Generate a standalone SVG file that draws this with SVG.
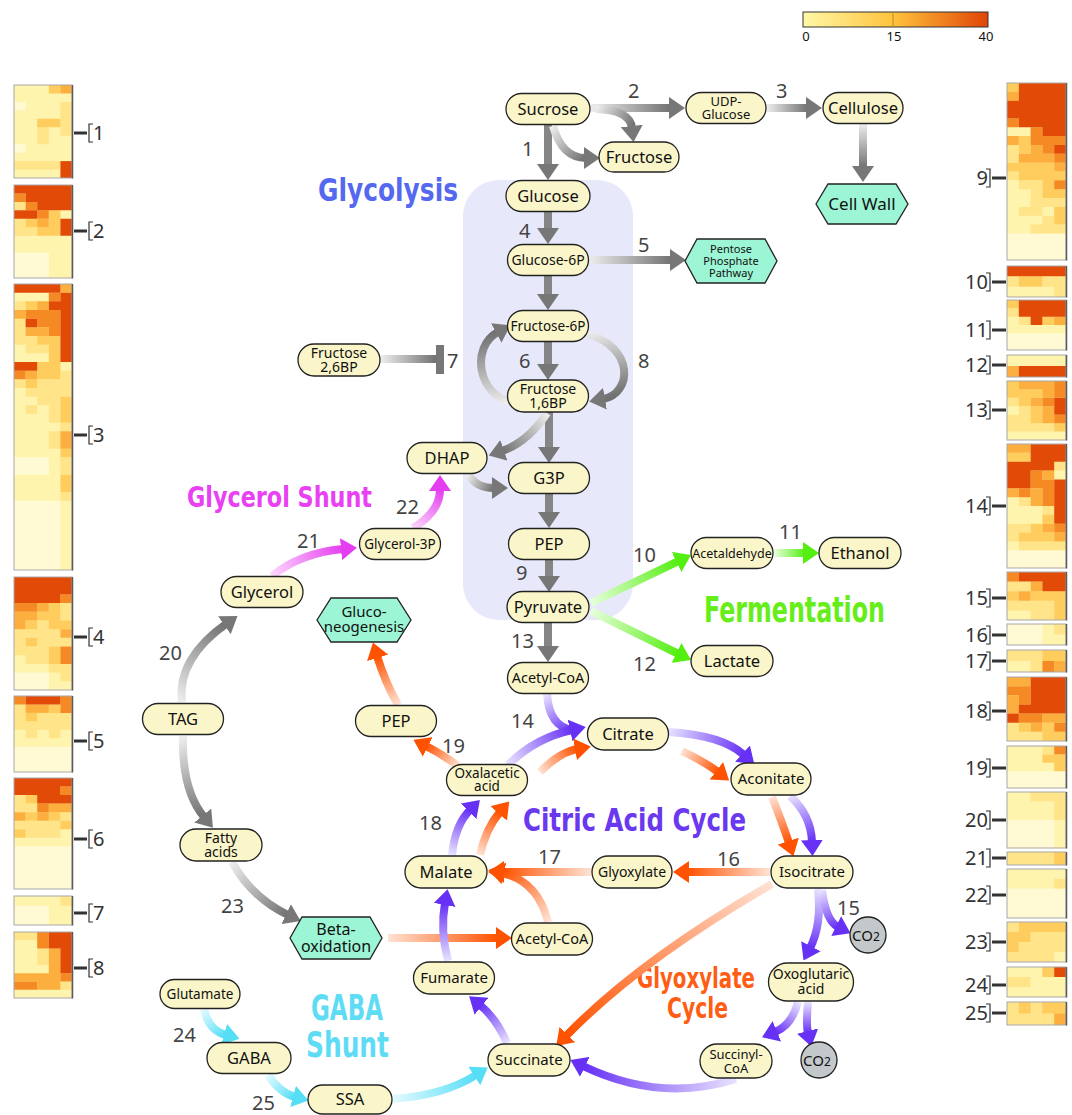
<svg xmlns="http://www.w3.org/2000/svg" xmlns:xlink="http://www.w3.org/1999/xlink" width="1072" height="1115" viewBox="0 0 1072 1115">
<style>
text{font-family:"Noto Sans","Open Sans","DejaVu Sans",sans-serif;fill:#111;text-anchor:middle}
.n{fill:#faf6c9;stroke:#222;stroke-width:1.3}
.hx{fill:#9cf5d4;stroke:#222;stroke-width:1.3}
.co{fill:#c3c8ca;stroke:#222;stroke-width:1.3}
.a{fill:none;stroke-width:8}
.s{fill:none;stroke:#858585;stroke-width:8}
.num{font-size:20px;fill:#444;text-anchor:start}
.ttl{font-family:"DejaVu Sans Condensed","DejaVu Sans",sans-serif;font-weight:bold;text-anchor:start}
.c0{fill:#fffad4}.c1{fill:#fff4ad}.c2{fill:#ffe48a}.c3{fill:#ffcc5e}.c4{fill:#fcaf3e}.c5{fill:#f58a24}.c6{fill:#e24a08}
.fr{fill:none;stroke:#a8a8a8;stroke-width:1}
.sh{stroke:#5a5a5a;stroke-width:1.5}
.br{fill:none;stroke:#333;stroke-width:1.2}
.bl{stroke:#333;stroke-width:3}
.hl{font-size:20px;fill:#333;text-anchor:start}
.hr{font-size:20px;fill:#333;text-anchor:end}
.b{font-size:16.5px}.m{font-size:14px}
</style>
<defs>
<linearGradient id="cb" x1="0" y1="0" x2="1" y2="0"><stop offset="0" stop-color="#fff8a6"/><stop offset="0.49" stop-color="#ffc33c"/><stop offset="1" stop-color="#e04406"/></linearGradient>
<linearGradient id="Tg"><stop offset="0" stop-color="#ededed"/><stop offset="1" stop-color="#717171"/></linearGradient>
<linearGradient id="Tm"><stop offset="0" stop-color="#fcd8fc"/><stop offset="1" stop-color="#e53ef0"/></linearGradient>
<linearGradient id="Tgr"><stop offset="0" stop-color="#e8ffdc"/><stop offset="1" stop-color="#55ee11"/></linearGradient>
<linearGradient id="To"><stop offset="0" stop-color="#ffe2d4"/><stop offset="1" stop-color="#ff5200"/></linearGradient>
<linearGradient id="Tp"><stop offset="0" stop-color="#e8e2ff"/><stop offset="1" stop-color="#6630f5"/></linearGradient>
<linearGradient id="Tc"><stop offset="0" stop-color="#e2faff"/><stop offset="1" stop-color="#55def6"/></linearGradient>
<linearGradient id="gF1" xlink:href="#Tg" gradientUnits="userSpaceOnUse" x1="553" y1="126" x2="586" y2="158"/>
<linearGradient id="g2" xlink:href="#Tg" gradientUnits="userSpaceOnUse" x1="591" y1="108" x2="671" y2="108"/>
<linearGradient id="gF2" xlink:href="#Tg" gradientUnits="userSpaceOnUse" x1="596" y1="109" x2="632" y2="128"/>
<linearGradient id="g3" xlink:href="#Tg" gradientUnits="userSpaceOnUse" x1="767" y1="108" x2="808" y2="108"/>
<linearGradient id="gCW" xlink:href="#Tg" gradientUnits="userSpaceOnUse" x1="863" y1="124" x2="863" y2="168"/>
<linearGradient id="g5" xlink:href="#Tg" gradientUnits="userSpaceOnUse" x1="589" y1="260" x2="672" y2="260"/>
<linearGradient id="g7" xlink:href="#Tg" gradientUnits="userSpaceOnUse" x1="512" y1="402" x2="498" y2="332"/>
<linearGradient id="g7i" xlink:href="#Tg" gradientUnits="userSpaceOnUse" x1="381" y1="359" x2="436" y2="359"/>
<linearGradient id="g8" xlink:href="#Tg" gradientUnits="userSpaceOnUse" x1="585" y1="333" x2="603" y2="399"/>
<linearGradient id="gDH" xlink:href="#Tg" gradientUnits="userSpaceOnUse" x1="547" y1="413" x2="502" y2="451"/>
<linearGradient id="gDG" xlink:href="#Tg" gradientUnits="userSpaceOnUse" x1="468" y1="474" x2="494" y2="488"/>
<linearGradient id="g20" xlink:href="#Tg" gradientUnits="userSpaceOnUse" x1="182" y1="702" x2="226" y2="624"/>
<linearGradient id="gTF" xlink:href="#Tg" gradientUnits="userSpaceOnUse" x1="183" y1="737" x2="204" y2="817"/>
<linearGradient id="g23" xlink:href="#Tg" gradientUnits="userSpaceOnUse" x1="232" y1="862" x2="288" y2="915"/>
<linearGradient id="g21" xlink:href="#Tm" gradientUnits="userSpaceOnUse" x1="272" y1="576" x2="343" y2="549"/>
<linearGradient id="g22" xlink:href="#Tm" gradientUnits="userSpaceOnUse" x1="413" y1="528" x2="440" y2="489"/>
<linearGradient id="g10" xlink:href="#Tgr" gradientUnits="userSpaceOnUse" x1="591" y1="603" x2="678" y2="561"/>
<linearGradient id="g11" xlink:href="#Tgr" gradientUnits="userSpaceOnUse" x1="774" y1="553" x2="805" y2="553"/>
<linearGradient id="g12" xlink:href="#Tgr" gradientUnits="userSpaceOnUse" x1="591" y1="611" x2="678" y2="654"/>
<linearGradient id="g14" xlink:href="#Tp" gradientUnits="userSpaceOnUse" x1="547" y1="694" x2="572" y2="730"/>
<linearGradient id="gOC" xlink:href="#Tp" gradientUnits="userSpaceOnUse" x1="508" y1="765" x2="572" y2="730"/>
<linearGradient id="gCA" xlink:href="#Tp" gradientUnits="userSpaceOnUse" x1="668" y1="732" x2="744" y2="755"/>
<linearGradient id="gAI" xlink:href="#Tp" gradientUnits="userSpaceOnUse" x1="790" y1="796" x2="812" y2="842"/>
<linearGradient id="g15" xlink:href="#Tp" gradientUnits="userSpaceOnUse" x1="818" y1="889" x2="810" y2="948"/>
<linearGradient id="gC1" xlink:href="#Tp" gradientUnits="userSpaceOnUse" x1="822" y1="890" x2="838" y2="927"/>
<linearGradient id="gOS" xlink:href="#Tp" gradientUnits="userSpaceOnUse" x1="798" y1="1002" x2="775" y2="1032"/>
<linearGradient id="gC2" xlink:href="#Tp" gradientUnits="userSpaceOnUse" x1="808" y1="1002" x2="808" y2="1033"/>
<linearGradient id="gSS" xlink:href="#Tp" gradientUnits="userSpaceOnUse" x1="736" y1="1079" x2="583" y2="1066"/>
<linearGradient id="gSF" xlink:href="#Tp" gradientUnits="userSpaceOnUse" x1="507" y1="1043" x2="480" y2="1005"/>
<linearGradient id="gFM" xlink:href="#Tp" gradientUnits="userSpaceOnUse" x1="448" y1="961" x2="445" y2="903"/>
<linearGradient id="g18" xlink:href="#Tp" gradientUnits="userSpaceOnUse" x1="452" y1="855" x2="470" y2="810"/>
<linearGradient id="gMO" xlink:href="#To" gradientUnits="userSpaceOnUse" x1="480" y1="855" x2="500" y2="812"/>
<linearGradient id="g19" xlink:href="#To" gradientUnits="userSpaceOnUse" x1="458" y1="766" x2="426" y2="746"/>
<linearGradient id="gPG" xlink:href="#To" gradientUnits="userSpaceOnUse" x1="398" y1="705" x2="377" y2="656"/>
<linearGradient id="gOCo" xlink:href="#To" gradientUnits="userSpaceOnUse" x1="540" y1="772" x2="577" y2="749"/>
<linearGradient id="gCAo" xlink:href="#To" gradientUnits="userSpaceOnUse" x1="682" y1="751" x2="718" y2="772"/>
<linearGradient id="gAIo" xlink:href="#To" gradientUnits="userSpaceOnUse" x1="772" y1="797" x2="789" y2="843"/>
<linearGradient id="g16" xlink:href="#To" gradientUnits="userSpaceOnUse" x1="770" y1="872" x2="687" y2="872"/>
<linearGradient id="gIS" xlink:href="#To" gradientUnits="userSpaceOnUse" x1="772" y1="884" x2="566" y2="1036"/>
<linearGradient id="g17" xlink:href="#To" gradientUnits="userSpaceOnUse" x1="591" y1="872" x2="502" y2="872"/>
<linearGradient id="gAM" xlink:href="#To" gradientUnits="userSpaceOnUse" x1="548" y1="922" x2="502" y2="873"/>
<linearGradient id="gBA" xlink:href="#To" gradientUnits="userSpaceOnUse" x1="388" y1="938" x2="498" y2="938"/>
<linearGradient id="g24" xlink:href="#Tc" gradientUnits="userSpaceOnUse" x1="204" y1="1009" x2="226" y2="1035"/>
<linearGradient id="g25" xlink:href="#Tc" gradientUnits="userSpaceOnUse" x1="268" y1="1075" x2="295" y2="1097"/>
<linearGradient id="gSA" xlink:href="#Tc" gradientUnits="userSpaceOnUse" x1="393" y1="1099" x2="476" y2="1075"/>
<marker id="mg" viewBox="0 0 16 22" refX="2" refY="11" markerWidth="16" markerHeight="22" markerUnits="userSpaceOnUse" orient="auto"><path d="M0,0L16,11L0,22Z" fill="#777"/></marker>
<marker id="mm" viewBox="0 0 16 22" refX="2" refY="11" markerWidth="16" markerHeight="22" markerUnits="userSpaceOnUse" orient="auto"><path d="M0,0L16,11L0,22Z" fill="#e53ef0"/></marker>
<marker id="mgr" viewBox="0 0 16 22" refX="2" refY="11" markerWidth="16" markerHeight="22" markerUnits="userSpaceOnUse" orient="auto"><path d="M0,0L16,11L0,22Z" fill="#55ee11"/></marker>
<marker id="mo" viewBox="0 0 16 22" refX="2" refY="11" markerWidth="16" markerHeight="22" markerUnits="userSpaceOnUse" orient="auto"><path d="M0,0L16,11L0,22Z" fill="#ff5200"/></marker>
<marker id="mp" viewBox="0 0 16 22" refX="2" refY="11" markerWidth="16" markerHeight="22" markerUnits="userSpaceOnUse" orient="auto"><path d="M0,0L16,11L0,22Z" fill="#6630f5"/></marker>
<marker id="mc" viewBox="0 0 16 22" refX="2" refY="11" markerWidth="16" markerHeight="22" markerUnits="userSpaceOnUse" orient="auto"><path d="M0,0L16,11L0,22Z" fill="#55def6"/></marker>
</defs>
<rect width="1072" height="1115" fill="#fff"/>

<g id="legend">
<rect x="803" y="12" width="185" height="15" fill="url(#cb)" stroke="#333" stroke-width="1"/>
<line x1="893" y1="12" x2="893" y2="27" stroke="#b88a30" stroke-width="1"/>
<text x="806" y="41" style="font-size:13px">0</text>
<text x="894" y="41" style="font-size:13px">15</text>
<text x="986" y="41" style="font-size:13px">40</text>
</g>

<rect id="glycolysis-region" x="463" y="180" width="170" height="440" rx="36" fill="#e7e9fb"/>

<g id="titles">
<text class="ttl" x="318" y="201" style="font-size:32px;fill:#5468f0" textLength="140" lengthAdjust="spacingAndGlyphs">Glycolysis</text>
<text class="ttl" x="187" y="507" style="font-size:29px;fill:#e840f2" textLength="185" lengthAdjust="spacingAndGlyphs">Glycerol Shunt</text>
<text class="ttl" x="704" y="622" style="font-size:35px;fill:#66ee1a" textLength="181" lengthAdjust="spacingAndGlyphs">Fermentation</text>
<text class="ttl" x="523" y="831" style="font-size:32px;fill:#6a38ef" textLength="223" lengthAdjust="spacingAndGlyphs">Citric Acid Cycle</text>
<text class="ttl" style="font-size:28px;fill:#ff5d14"><tspan x="637" y="988" textLength="118" lengthAdjust="spacingAndGlyphs">Glyoxylate</tspan><tspan x="667" y="1018" textLength="61" lengthAdjust="spacingAndGlyphs">Cycle</tspan></text>
<text class="ttl" style="font-size:36px;fill:#5fdcf5"><tspan x="311" y="1020" textLength="72" lengthAdjust="spacingAndGlyphs">GABA</tspan><tspan x="306" y="1057" textLength="83" lengthAdjust="spacingAndGlyphs">Shunt</tspan></text>
</g>

<g id="connectors">
<path class="s" d="M548,125V166" marker-end="url(#mg)"/>
<path class="a" d="M553,126 Q562,158 586,158" stroke="url(#gF1)" marker-end="url(#mg)"/>
<path class="a" d="M591,108H671" stroke="url(#g2)" marker-end="url(#mg)"/>
<path class="a" d="M596,109 Q630,110 632,128" stroke="url(#gF2)" marker-end="url(#mg)"/>
<path class="a" d="M767,108H808" stroke="url(#g3)" marker-end="url(#mg)"/>
<path class="a" d="M863,124V168" stroke="url(#gCW)" marker-end="url(#mg)"/>
<path class="s" d="M548,212V230" marker-end="url(#mg)"/>
<path class="a" d="M589,260H672" stroke="url(#g5)" marker-end="url(#mg)"/>
<path class="s" d="M548,276V296" marker-end="url(#mg)"/>
<path class="s" d="M548,342V366" marker-end="url(#mg)"/>
<path class="a" d="M512,402 C478,396 470,347 498,332" stroke="url(#g7)" marker-end="url(#mg)"/>
<path class="a" d="M585,333 C636,347 632,394 603,399" stroke="url(#g8)" marker-end="url(#mg)"/>
<path class="a" d="M381,359H437" stroke="url(#g7i)"/>
<rect x="436" y="345" width="8" height="29" fill="#777"/>
<path class="s" d="M549,412V449" marker-end="url(#mg)"/>
<path class="a" d="M547,413 Q528,442 502,451" stroke="url(#gDH)" marker-end="url(#mg)"/>
<path class="a" d="M468,474 Q476,488 494,488" stroke="url(#gDG)" marker-end="url(#mg)"/>
<path class="s" d="M549,494V514" marker-end="url(#mg)"/>
<path class="s" d="M549,560V578" marker-end="url(#mg)"/>
<path class="s" d="M548,623V648" marker-end="url(#mg)"/>
<path class="a" d="M591,603L678.4,561.1" stroke="url(#g10)" marker-end="url(#mgr)"/>
<path class="a" d="M774,553H805" stroke="url(#g11)" marker-end="url(#mgr)"/>
<path class="a" d="M591,611L678.4,653.8" stroke="url(#g12)" marker-end="url(#mgr)"/>
<path class="a" d="M182,702 C178,672 196,645 226,624" stroke="url(#g20)" marker-end="url(#mg)"/>
<path class="a" d="M183,736 C182,775 190,800 204,817" stroke="url(#gTF)" marker-end="url(#mg)"/>
<path class="a" d="M232,862 Q252,898 288,915" stroke="url(#g23)" marker-end="url(#mg)"/>
<path class="a" d="M272,576 Q300,553 343,549" stroke="url(#g21)" marker-end="url(#mm)"/>
<path class="a" d="M413,528 Q440,512 440,489" stroke="url(#g22)" marker-end="url(#mm)"/>
<path class="a" d="M398,705 Q385,682 377,656" stroke="url(#gPG)" marker-end="url(#mo)"/>
<path class="a" d="M458,766 Q442,754 426,746" stroke="url(#g19)" marker-end="url(#mo)"/>
<path class="a" d="M540,772 Q560,752 577,749" stroke="url(#gOCo)" marker-end="url(#mo)"/>
<path class="a" d="M682,751 Q705,762 718,772" stroke="url(#gCAo)" marker-end="url(#mo)"/>
<path class="a" d="M772,797 Q782,822 789,843" stroke="url(#gAIo)" marker-end="url(#mo)"/>
<path class="a" d="M770,872H687" stroke="url(#g16)" marker-end="url(#mo)"/>
<path class="a" d="M772,884 Q640,960 566,1036" stroke="url(#gIS)" marker-end="url(#mo)"/>
<path class="a" d="M591,872H502" stroke="url(#g17)" marker-end="url(#mo)"/>
<path class="a" d="M548,922 Q538,881 502,873" stroke="url(#gAM)" marker-end="url(#mo)"/>
<path class="a" d="M388,938H498" stroke="url(#gBA)" marker-end="url(#mo)"/>
<path class="a" d="M480,855 Q486,828 500,812" stroke="url(#gMO)" marker-end="url(#mo)"/>
<path class="a" d="M547,694 Q549,726 572,730" stroke="url(#g14)"/>
<path class="a" d="M508,765 Q535,738 572,730" stroke="url(#gOC)" marker-end="url(#mp)"/>
<path class="a" d="M668,732 Q722,735 744,755" stroke="url(#gCA)" marker-end="url(#mp)"/>
<path class="a" d="M790,796 Q811,815 812,842" stroke="url(#gAI)" marker-end="url(#mp)"/>
<path class="a" d="M818,889 Q822,925 810,948" stroke="url(#g15)" marker-end="url(#mp)"/>
<path class="a" d="M822,890 Q826,921 838,927" stroke="url(#gC1)" marker-end="url(#mp)"/>
<path class="a" d="M798,1002 Q792,1025 775,1032" stroke="url(#gOS)" marker-end="url(#mp)"/>
<path class="a" d="M808,1002 Q806,1025 808,1033" stroke="url(#gC2)" marker-end="url(#mp)"/>
<path class="a" d="M736,1079 Q660,1103 583,1066" stroke="url(#gSS)" marker-end="url(#mp)"/>
<path class="a" d="M507,1043 Q496,1018 480,1005" stroke="url(#gSF)" marker-end="url(#mp)"/>
<path class="a" d="M448,961 Q440,930 445,903" stroke="url(#gFM)" marker-end="url(#mp)"/>
<path class="a" d="M452,855 Q455,825 470,810" stroke="url(#g18)" marker-end="url(#mp)"/>
<path class="a" d="M204,1009 Q208,1030 226,1035" stroke="url(#g24)" marker-end="url(#mc)"/>
<path class="a" d="M268,1075 Q280,1093 295,1097" stroke="url(#g25)" marker-end="url(#mc)"/>
<path class="a" d="M393,1099 Q445,1095 476,1075" stroke="url(#gSA)" marker-end="url(#mc)"/>
</g>

<g id="step-numbers">
<text class="num" x="522" y="156">1</text>
<text class="num" x="628" y="98">2</text>
<text class="num" x="776" y="98">3</text>
<text class="num" x="519" y="238">4</text>
<text class="num" x="638" y="252">5</text>
<text class="num" x="519" y="368">6</text>
<text class="num" x="447" y="368">7</text>
<text class="num" x="638" y="368">8</text>
<text class="num" x="516" y="580">9</text>
<text class="num" x="633" y="562">10</text>
<text class="num" x="779" y="539">11</text>
<text class="num" x="633" y="671">12</text>
<text class="num" x="511" y="648">13</text>
<text class="num" x="511" y="728">14</text>
<text class="num" x="837" y="915">15</text>
<text class="num" x="717" y="866">16</text>
<text class="num" x="538" y="864">17</text>
<text class="num" x="419" y="830">18</text>
<text class="num" x="442" y="753">19</text>
<text class="num" x="159" y="660">20</text>
<text class="num" x="297" y="548">21</text>
<text class="num" x="396" y="514">22</text>
<text class="num" x="221" y="913">23</text>
<text class="num" x="173" y="1042">24</text>
<text class="num" x="252" y="1110">25</text>
</g>

<g id="sucrose"><rect class="n" x="506" y="93.5" width="84" height="31" rx="15.5"/><text class="b" x="548" y="115">Sucrose</text></g>
<g id="udp-glucose"><rect class="n" x="686" y="92.5" width="80" height="31" rx="15.5"/><text style="font-size:13px"><tspan x="726" y="106">UDP-</tspan><tspan x="726" y="119">Glucose</tspan></text></g>
<g id="cellulose"><rect class="n" x="823" y="92.5" width="80" height="31" rx="15.5"/><text class="b" x="863" y="114">Cellulose</text></g>
<g id="fructose"><rect class="n" x="599" y="142" width="80" height="30" rx="15"/><text class="b" x="639" y="163">Fructose</text></g>
<g id="glucose"><rect class="n" x="506" y="180.5" width="84" height="31" rx="15.5"/><text class="b" x="548" y="202">Glucose</text></g>
<g id="cell-wall"><polygon class="hx" points="816,204 828,184 896,184 908,204 896,224 828,224"/><text x="862" y="210" style="font-size:17px">Cell Wall</text></g>
<g id="glucose-6p"><rect class="n" x="507.5" y="244.5" width="81" height="31" rx="15.5"/><text class="m" x="548" y="265">Glucose-6P</text></g>
<g id="pentose-phosphate"><polygon class="hx" points="685,261 697,239 765,239 777,261 765,283 697,283"/><text style="font-size:11px"><tspan x="731" y="253">Pentose</tspan><tspan x="731" y="265">Phosphate</tspan><tspan x="731" y="277">Pathway</tspan></text></g>
<g id="fructose-6p"><rect class="n" x="507.5" y="310.5" width="81" height="31" rx="15.5"/><text x="548" y="331" style="font-size:13.5px">Fructose-6P</text></g>
<g id="fructose-26bp"><rect class="n" x="298" y="344" width="82" height="32" rx="16"/><text class="m"><tspan x="339" y="358">Fructose</tspan><tspan x="339" y="372">2,6BP</tspan></text></g>
<g id="fructose-16bp"><rect class="n" x="507.5" y="380" width="81" height="32" rx="16"/><text class="m"><tspan x="548" y="394">Fructose</tspan><tspan x="548" y="408">1,6BP</tspan></text></g>
<g id="dhap"><rect class="n" x="407" y="442.5" width="80" height="31" rx="15.5"/><text class="b" x="447" y="464">DHAP</text></g>
<g id="g3p"><rect class="n" x="508.5" y="462.5" width="81" height="31" rx="15.5"/><text class="b" x="549" y="484">G3P</text></g>
<g id="glycerol-3p"><rect class="n" x="359.5" y="528.5" width="81" height="31" rx="15.5"/><text x="400" y="549" style="font-size:13.5px">Glycerol-3P</text></g>
<g id="pep-glycolysis"><rect class="n" x="508.5" y="528.5" width="81" height="31" rx="15.5"/><text class="b" x="549" y="550">PEP</text></g>
<g id="pyruvate"><rect class="n" x="507" y="591.5" width="82" height="31" rx="15.5"/><text class="b" x="548" y="613">Pyruvate</text></g>
<g id="glycerol"><rect class="n" x="221" y="576.5" width="82" height="31" rx="15.5"/><text class="b" x="262" y="598">Glycerol</text></g>
<g id="gluconeogenesis"><polygon class="hx" points="317,620 331,598 397,598 411,620 397,642 331,642"/><text style="font-size:15px"><tspan x="364" y="617">Gluco-</tspan><tspan x="364" y="632">neogenesis</tspan></text></g>
<g id="acetaldehyde"><rect class="n" x="691" y="537.5" width="82" height="31" rx="15.5"/><text x="732" y="557.5" style="font-size:12.5px">Acetaldehyde</text></g>
<g id="ethanol"><rect class="n" x="819" y="537.5" width="82" height="31" rx="15.5"/><text class="b" x="860" y="559">Ethanol</text></g>
<g id="lactate"><rect class="n" x="691" y="645.5" width="82" height="31" rx="15.5"/><text class="b" x="732" y="667">Lactate</text></g>
<g id="acetyl-coa-1"><rect class="n" x="507.5" y="662.5" width="81" height="31" rx="15.5"/><text x="548" y="683" style="font-size:14.5px">Acetyl-CoA</text></g>
<g id="tag"><rect class="n" x="142.5" y="703.5" width="81" height="31" rx="15.5"/><text class="b" x="183" y="725">TAG</text></g>
<g id="pep-gluconeo"><rect class="n" x="355.5" y="705.5" width="81" height="31" rx="15.5"/><text class="b" x="396" y="727">PEP</text></g>
<g id="citrate"><rect class="n" x="587.5" y="718" width="81" height="32" rx="16"/><text class="b" x="628" y="740">Citrate</text></g>
<g id="oxalacetic-acid"><rect class="n" x="446.5" y="764.5" width="81" height="31" rx="15.5"/><text style="font-size:13.5px"><tspan x="487" y="778">Oxalacetic</tspan><tspan x="487" y="791">acid</tspan></text></g>
<g id="aconitate"><rect class="n" x="731" y="763" width="80" height="32" rx="16"/><text x="771" y="784" style="font-size:15px">Aconitate</text></g>
<g id="fatty-acids"><rect class="n" x="180" y="829" width="82" height="32" rx="16"/><text class="m"><tspan x="221" y="843">Fatty</tspan><tspan x="221" y="857">acids</tspan></text></g>
<g id="malate"><rect class="n" x="405" y="856" width="82" height="32" rx="16"/><text class="b" x="446" y="878">Malate</text></g>
<g id="glyoxylate"><rect class="n" x="592" y="856" width="80" height="32" rx="16"/><text class="m" x="632" y="877">Glyoxylate</text></g>
<g id="isocitrate"><rect class="n" x="771" y="856" width="82" height="32" rx="16"/><text x="812" y="877" style="font-size:15px">Isocitrate</text></g>
<g id="beta-oxidation"><polygon class="hx" points="290,938 302,917 370,917 382,938 370,959 302,959"/><text style="font-size:16px"><tspan x="336" y="935">Beta-</tspan><tspan x="336" y="952">oxidation</tspan></text></g>
<g id="acetyl-coa-2"><rect class="n" x="511.5" y="923" width="81" height="32" rx="16"/><text x="552" y="944" style="font-size:14.5px">Acetyl-CoA</text></g>
<g id="co2-1"><circle class="co" cx="868" cy="935" r="18"/><text x="866" y="941" style="font-size:15px">CO<tspan style="font-size:12px">2</tspan></text></g>
<g id="fumarate"><rect class="n" x="413.5" y="962" width="81" height="32" rx="16"/><text x="454" y="983" style="font-size:15px">Fumarate</text></g>
<g id="oxoglutaric-acid"><rect class="n" x="768.5" y="963" width="85" height="38" rx="19"/><text class="m"><tspan x="811" y="979">Oxoglutaric</tspan><tspan x="811" y="994">acid</tspan></text></g>
<g id="glutamate"><rect class="n" x="160" y="979.5" width="80" height="29" rx="14.5"/><text x="200" y="999" style="font-size:13.5px">Glutamate</text></g>
<g id="gaba"><rect class="n" x="207" y="1042.5" width="84" height="31" rx="15.5"/><text class="b" x="249" y="1064">GABA</text></g>
<g id="succinate"><rect class="n" x="488" y="1044" width="82" height="32" rx="16"/><text x="529" y="1065" style="font-size:15px">Succinate</text></g>
<g id="succinyl-coa"><rect class="n" x="700" y="1044" width="72" height="34" rx="17"/><text style="font-size:13px"><tspan x="736" y="1059">Succinyl-</tspan><tspan x="736" y="1073">CoA</tspan></text></g>
<g id="co2-2"><circle class="co" cx="819" cy="1060" r="18"/><text x="817" y="1066" style="font-size:15px">CO<tspan style="font-size:12px">2</tspan></text></g>
<g id="ssa"><rect class="n" x="308" y="1085" width="84" height="29" rx="14.5"/><text class="b" x="350" y="1105">SSA</text></g>

<g id="heatmaps-left">
<g transform="translate(14,85) scale(11.6,8.4545)">
<path class="c1" d="M0 0h5v11h-5z"/>
<path class="c0" d="M0 2h1v1h-1z M0 7h1v1h-1z"/>
<path class="c2" d="M4 2h1v3h-1z M2 5h1v2h-1z M4 5h1v1h-1z M0 9h4v1h-4z"/>
<path class="c3" d="M3 0h1v1h-1z M2 4h2v1h-2z"/>
<path class="c4" d="M4 0h1v1h-1z"/>
<path class="c6" d="M4 9h1v2h-1z"/>
</g>
<g transform="translate(14,185) scale(11.6,8.4545)">
<path class="c1" d="M0 0h5v11h-5z"/>
<path class="c0" d="M0 8h3v3h-3z"/>
<path class="c2" d="M0 2h1v1h-1z M0 4h1v2h-1z M1 5h1v1h-1z"/>
<path class="c3" d="M3 3h1v1h-1z M1 4h1v1h-1z M3 4h1v1h-1z M2 5h2v1h-2z"/>
<path class="c4" d="M2 4h1v1h-1z"/>
<path class="c5" d="M0 1h1v1h-1z M1 2h1v1h-1z M2 3h1v1h-1z"/>
<path class="c6" d="M0 0h5v1h-5z M1 1h4v1h-4z M2 2h3v1h-3z M0 3h2v1h-2z M4 4h1v2h-1z"/>
</g>
<g transform="translate(14,284) scale(11.6,8.6667)">
<path class="c1" d="M0 0h5v33h-5z"/>
<path class="c0" d="M0 25h4v8h-4z M0 20h3v2h-3z"/>
<path class="c2" d="M0 2h1v1h-1z M0 4h1v2h-1z M0 6h2v1h-2z M1 7h2v1h-2z M4 10h1v1h-1z M0 11h1v1h-1z M2 11h3v1h-3z M1 12h4v1h-4z M2 13h2v1h-2z M1 14h1v1h-1z M3 14h1v2h-1z M4 16h1v1h-1z M3 17h1v2h-1z M4 20h1v2h-1z M4 24h1v1h-1z"/>
<path class="c3" d="M1 2h1v1h-1z M2 6h2v1h-2z M3 7h1v2h-1z M2 9h2v1h-2z M2 10h2v1h-2z M1 11h1v1h-1z M4 13h1v3h-1z M4 19h1v1h-1z M4 22h1v2h-1z"/>
<path class="c4" d="M4 0h1v1h-1z M2 2h1v1h-1z M0 3h1v1h-1z M1 5h2v1h-2z M1 10h1v1h-1z M4 17h1v2h-1z"/>
<path class="c5" d="M3 1h1v1h-1z M1 3h3v1h-3z M2 4h2v1h-2z M3 5h1v1h-1z M0 10h1v1h-1z"/>
<path class="c6" d="M0 0h4v1h-4z M4 1h1v8h-1z M3 2h1v1h-1z M1 4h1v1h-1z M0 9h2v1h-2z"/>
</g>
<g transform="translate(14,577) scale(11.6,8.6923)">
<path class="c1" d="M0 0h5v13h-5z"/>
<path class="c0" d="M0 11h3v2h-3z"/>
<path class="c2" d="M4 3h1v2h-1z M2 5h1v1h-1z M0 6h4v1h-4z M0 7h1v1h-1z M2 7h3v1h-3z M0 8h3v1h-3z M1 9h2v1h-2z M3 10h2v1h-2z M4 11h1v1h-1z"/>
<path class="c3" d="M3 3h1v1h-1z M2 4h2v1h-2z M1 5h1v1h-1z M3 5h2v1h-2z M1 7h1v1h-1z M3 8h1v2h-1z"/>
<path class="c4" d="M2 3h1v1h-1z M0 4h2v1h-2z M0 5h1v1h-1z M4 6h1v1h-1z"/>
<path class="c5" d="M4 2h1v1h-1z M0 3h2v1h-2z M4 8h1v2h-1z"/>
<path class="c6" d="M0 0h5v2h-5z M0 2h4v1h-4z"/>
</g>
<g transform="translate(14,696) scale(11.6,8.4444)">
<path class="c1" d="M0 0h5v9h-5z"/>
<path class="c0" d="M0 6h5v3h-5z"/>
<path class="c2" d="M0 1h1v2h-1z M2 2h3v1h-3z M0 3h5v1h-5z M1 4h1v1h-1z M3 4h1v1h-1z"/>
<path class="c3" d="M3 1h1v1h-1z M1 2h1v1h-1z"/>
<path class="c4" d="M1 1h2v1h-2z"/>
<path class="c5" d="M0 0h1v1h-1z M4 0h1v2h-1z"/>
<path class="c6" d="M1 0h3v1h-3z"/>
</g>
<g transform="translate(14,778) scale(11.6,8.5385)">
<path class="c1" d="M0 0h5v13h-5z"/>
<path class="c0" d="M0 8h5v5h-5z"/>
<path class="c2" d="M0 2h1v2h-1z M1 3h1v1h-1z M4 4h1v1h-1z M0 5h4v1h-4z M1 6h3v1h-3z"/>
<path class="c3" d="M1 2h1v1h-1z M1 4h1v1h-1z M3 4h1v1h-1z M4 5h1v1h-1z M0 6h1v1h-1z"/>
<path class="c4" d="M3 3h2v1h-2z M0 4h1v1h-1z M2 4h1v1h-1z"/>
<path class="c5" d="M4 1h1v1h-1z M2 3h1v1h-1z"/>
<path class="c6" d="M0 0h5v1h-5z M0 1h4v1h-4z M2 2h3v1h-3z"/>
</g>
<g transform="translate(14,896) scale(11.6,9.6667)">
<path class="c1" d="M0 0h5v3h-5z"/>
<path class="c0" d="M0 1h3v2h-3z"/>
<path class="c2" d="M4 0h1v1h-1z"/>
</g>
<g transform="translate(14,932) scale(11.6,8.25)">
<path class="c1" d="M0 0h5v8h-5z"/>
<path class="c2" d="M0 0h2v1h-2z M2 2h1v2h-1z M4 6h1v1h-1z"/>
<path class="c4" d="M3 2h1v3h-1z M0 5h4v1h-4z M2 6h2v1h-2z"/>
<path class="c5" d="M2 0h1v2h-1z M4 5h1v1h-1z M0 6h2v1h-2z"/>
<path class="c6" d="M3 0h2v2h-2z M4 2h1v3h-1z"/>
</g>
<rect class="fr" x="14" y="85" width="58" height="93"/><line class="sh" x1="72.5" y1="85" x2="72.5" y2="178.5"/>
<rect class="fr" x="14" y="185" width="58" height="93"/><line class="sh" x1="72.5" y1="185" x2="72.5" y2="278.5"/>
<rect class="fr" x="14" y="284" width="58" height="286"/><line class="sh" x1="72.5" y1="284" x2="72.5" y2="570.5"/>
<rect class="fr" x="14" y="577" width="58" height="113"/><line class="sh" x1="72.5" y1="577" x2="72.5" y2="690.5"/>
<rect class="fr" x="14" y="696" width="58" height="76"/><line class="sh" x1="72.5" y1="696" x2="72.5" y2="772.5"/>
<rect class="fr" x="14" y="778" width="58" height="111"/><line class="sh" x1="72.5" y1="778" x2="72.5" y2="889.5"/>
<rect class="fr" x="14" y="896" width="58" height="29"/><line class="sh" x1="72.5" y1="896" x2="72.5" y2="925.5"/>
<rect class="fr" x="14" y="932" width="58" height="66"/><line class="sh" x1="72.5" y1="932" x2="72.5" y2="998.5"/>
<path class="bl" d="M74 133H87 M74 231H87 M74 435H87 M74 637H87 M74 741H87 M74 839H87 M74 913H87 M74 968H87"/>
<path class="br" d="M93 124H89V142H93 M93 222H89V240H93 M93 426H89V444H93 M93 628H89V646H93 M93 732H89V750H93 M93 830H89V848H93 M93 904H89V922H93 M93 959H89V977H93"/>
<text class="hl" x="93" y="140">1</text>
<text class="hl" x="93" y="238">2</text>
<text class="hl" x="93" y="442">3</text>
<text class="hl" x="93" y="644">4</text>
<text class="hl" x="93" y="748">5</text>
<text class="hl" x="93" y="846">6</text>
<text class="hl" x="93" y="920">7</text>
<text class="hl" x="93" y="975">8</text>
</g>

<g id="heatmaps-right">
<g transform="translate(1007,83) scale(11.8,8.85)">
<path class="c1" d="M0 0h5v20h-5z"/>
<path class="c0" d="M0 17h5v3h-5z"/>
<path class="c2" d="M0 7h1v2h-1z M0 10h1v1h-1z M1 11h2v1h-2z M2 12h1v2h-1z M3 13h2v1h-2z M1 14h2v1h-2z M3 15h1v1h-1z M2 16h3v1h-3z"/>
<path class="c3" d="M0 0h1v1h-1z M1 6h1v1h-1z M1 7h1v1h-1z M0 9h4v1h-4z M1 10h4v1h-4z M3 11h1v2h-1z M4 12h1v1h-1z M4 14h1v2h-1z"/>
<path class="c4" d="M0 1h1v1h-1z M0 6h1v1h-1z M2 7h1v1h-1z M1 8h3v1h-3z M4 9h1v1h-1z"/>
<path class="c5" d="M0 4h1v1h-1z M2 5h1v1h-1z M2 6h3v1h-3z M3 7h1v1h-1z M4 8h1v1h-1z M4 11h1v1h-1z"/>
<path class="c6" d="M1 0h4v2h-4z M0 2h5v2h-5z M1 4h4v1h-4z M3 5h2v1h-2z M4 7h1v1h-1z"/>
</g>
<g transform="translate(1007,266) scale(11.8,10.333)">
<path class="c1" d="M0 0h5v3h-5z"/>
<path class="c2" d="M0 1h1v1h-1z M3 1h2v1h-2z M4 2h1v1h-1z"/>
<path class="c3" d="M1 1h2v1h-2z"/>
<path class="c6" d="M0 0h5v1h-5z"/>
</g>
<g transform="translate(1007,300) scale(11.8,8.3333)">
<path class="c1" d="M0 0h5v6h-5z"/>
<path class="c0" d="M0 4h5v2h-5z"/>
<path class="c2" d="M0 1h1v1h-1z M1 2h1v1h-1z"/>
<path class="c3" d="M0 0h1v1h-1z M3 2h1v1h-1z"/>
<path class="c4" d="M4 2h1v1h-1z"/>
<path class="c6" d="M1 0h4v2h-4z M2 2h1v1h-1z"/>
</g>
<g transform="translate(1007,355) scale(11.8,11)">
<path class="c1" d="M0 0h5v2h-5z"/>
<path class="c4" d="M0 1h1v1h-1z"/>
<path class="c6" d="M1 1h4v1h-4z"/>
</g>
<g transform="translate(1007,381) scale(11.8,8.4286)">
<path class="c1" d="M0 0h5v7h-5z"/>
<path class="c2" d="M0 2h1v1h-1z M1 3h1v1h-1z M0 4h2v1h-2z M0 5h4v1h-4z"/>
<path class="c3" d="M0 0h1v2h-1z M1 1h2v1h-2z M1 2h1v1h-1z M2 3h1v2h-1z M4 5h1v1h-1z"/>
<path class="c4" d="M1 0h3v1h-3z M3 1h1v1h-1z M2 2h1v1h-1z M3 3h1v2h-1z"/>
<path class="c5" d="M4 0h1v2h-1z M3 2h1v1h-1z M4 4h1v1h-1z"/>
<path class="c6" d="M4 2h1v2h-1z"/>
</g>
<g transform="translate(1007,444) scale(11.8,8.857)">
<path class="c1" d="M0 0h5v14h-5z"/>
<path class="c0" d="M0 12h5v2h-5z"/>
<path class="c2" d="M4 2h1v1h-1z M1 6h1v1h-1z M3 7h1v1h-1z M0 9h2v1h-2z M0 10h1v1h-1z M1 11h4v1h-4z"/>
<path class="c3" d="M0 1h2v1h-2z M3 8h1v1h-1z M2 9h1v1h-1z M1 10h3v1h-3z"/>
<path class="c4" d="M0 0h2v1h-2z M3 3h1v1h-1z M0 5h1v1h-1z M2 5h1v2h-1z M3 9h1v1h-1z M4 10h1v1h-1z"/>
<path class="c5" d="M2 3h1v2h-1z M3 4h1v1h-1z M1 5h1v1h-1z M3 5h1v2h-1z M4 9h1v1h-1z"/>
<path class="c6" d="M2 0h3v2h-3z M0 2h4v1h-4z M0 3h2v2h-2z M4 4h1v5h-1z"/>
</g>
<g transform="translate(1007,572) scale(11.8,9.6)">
<path class="c1" d="M0 0h5v5h-5z"/>
<path class="c2" d="M0 1h2v1h-2z M0 3h4v1h-4z M2 4h2v1h-2z"/>
<path class="c3" d="M0 2h1v1h-1z M2 2h3v1h-3z M4 3h1v2h-1z"/>
<path class="c4" d="M2 1h1v1h-1z M1 2h1v1h-1z"/>
<path class="c5" d="M0 0h1v1h-1z"/>
<path class="c6" d="M1 0h4v1h-4z M3 1h2v1h-2z"/>
</g>
<g transform="translate(1007,624) scale(11.8,10.5)">
<path class="c1" d="M0 0h5v2h-5z"/>
<path class="c0" d="M0 0h3v2h-3z"/>
<path class="c2" d="M4 0h1v1h-1z"/>
</g>
<g transform="translate(1007,650) scale(11.8,11)">
<path class="c1" d="M0 0h5v2h-5z"/>
<path class="c2" d="M0 0h3v1h-3z M2 1h1v1h-1z"/>
<path class="c3" d="M3 0h2v1h-2z"/>
<path class="c4" d="M4 1h1v1h-1z"/>
<path class="c5" d="M3 1h1v1h-1z"/>
</g>
<g transform="translate(1007,677) scale(11.8,9.1429)">
<path class="c1" d="M0 0h5v7h-5z"/>
<path class="c2" d="M0 5h1v1h-1z M0 6h3v1h-3z"/>
<path class="c3" d="M1 5h1v1h-1z M3 5h1v1h-1z M3 6h2v1h-2z"/>
<path class="c4" d="M0 0h2v1h-2z M0 2h1v2h-1z M3 4h2v1h-2z M2 5h1v1h-1z"/>
<path class="c5" d="M0 1h2v1h-2z M1 2h1v1h-1z M1 4h2v1h-2z M4 5h1v1h-1z"/>
<path class="c6" d="M2 0h3v4h-3z M1 3h1v1h-1z M0 4h1v1h-1z"/>
</g>
<g transform="translate(1007,746) scale(11.8,8.4)">
<path class="c1" d="M0 0h5v5h-5z"/>
<path class="c0" d="M0 3h5v2h-5z"/>
<path class="c2" d="M3 0h1v1h-1z"/>
<path class="c3" d="M3 1h2v1h-2z M4 2h1v1h-1z"/>
<path class="c5" d="M4 0h1v1h-1z"/>
</g>
<g transform="translate(1007,792) scale(11.8,9.3333)">
<path class="c1" d="M0 0h5v6h-5z"/>
<path class="c0" d="M0 3h4v3h-4z"/>
<path class="c2" d="M2 0h3v1h-3z M4 1h1v2h-1z"/>
</g>
<g transform="translate(1007,852) scale(11.8,13)">
<path class="c2" d="M0 0h5v1h-5z"/>
<path class="c3" d="M4 0h1v1h-1z"/>
</g>
<g transform="translate(1007,869) scale(11.8,9.8)">
<path class="c1" d="M0 0h5v5h-5z"/>
<path class="c0" d="M0 2h5v3h-5z"/>
<path class="c2" d="M4 1h1v1h-1z"/>
</g>
<g transform="translate(1007,922) scale(11.8,10)">
<path class="c1" d="M0 0h5v4h-5z"/>
<path class="c2" d="M0 0h1v1h-1z M2 1h3v1h-3z M1 2h4v1h-4z M0 3h4v1h-4z"/>
<path class="c3" d="M1 0h4v1h-4z M0 1h2v1h-2z M0 2h1v1h-1z"/>
</g>
<g transform="translate(1007,967) scale(11.8,10)">
<path class="c1" d="M0 0h5v3h-5z"/>
<path class="c2" d="M0 1h2v1h-2z"/>
<path class="c3" d="M3 0h1v1h-1z"/>
<path class="c6" d="M4 0h1v1h-1z"/>
</g>
<g transform="translate(1007,1002) scale(11.8,11.5)">
<path class="c2" d="M0 0h5v2h-5z"/>
<path class="c3" d="M1 0h1v1h-1z M3 0h2v1h-2z"/>
<path class="c4" d="M4 1h1v1h-1z"/>
</g>
<rect class="fr" x="1007" y="83" width="59" height="177"/><line class="sh" x1="1066.5" y1="83" x2="1066.5" y2="260.5"/>
<rect class="fr" x="1007" y="266" width="59" height="31"/><line class="sh" x1="1066.5" y1="266" x2="1066.5" y2="297.5"/>
<rect class="fr" x="1007" y="300" width="59" height="50"/><line class="sh" x1="1066.5" y1="300" x2="1066.5" y2="350.5"/>
<rect class="fr" x="1007" y="355" width="59" height="22"/><line class="sh" x1="1066.5" y1="355" x2="1066.5" y2="377.5"/>
<rect class="fr" x="1007" y="381" width="59" height="59"/><line class="sh" x1="1066.5" y1="381" x2="1066.5" y2="440.5"/>
<rect class="fr" x="1007" y="444" width="59" height="124"/><line class="sh" x1="1066.5" y1="444" x2="1066.5" y2="568.5"/>
<rect class="fr" x="1007" y="572" width="59" height="48"/><line class="sh" x1="1066.5" y1="572" x2="1066.5" y2="620.5"/>
<rect class="fr" x="1007" y="624" width="59" height="21"/><line class="sh" x1="1066.5" y1="624" x2="1066.5" y2="645.5"/>
<rect class="fr" x="1007" y="650" width="59" height="22"/><line class="sh" x1="1066.5" y1="650" x2="1066.5" y2="672.5"/>
<rect class="fr" x="1007" y="677" width="59" height="64"/><line class="sh" x1="1066.5" y1="677" x2="1066.5" y2="741.5"/>
<rect class="fr" x="1007" y="746" width="59" height="42"/><line class="sh" x1="1066.5" y1="746" x2="1066.5" y2="788.5"/>
<rect class="fr" x="1007" y="792" width="59" height="56"/><line class="sh" x1="1066.5" y1="792" x2="1066.5" y2="848.5"/>
<rect class="fr" x="1007" y="852" width="59" height="13"/><line class="sh" x1="1066.5" y1="852" x2="1066.5" y2="865.5"/>
<rect class="fr" x="1007" y="869" width="59" height="49"/><line class="sh" x1="1066.5" y1="869" x2="1066.5" y2="918.5"/>
<rect class="fr" x="1007" y="922" width="59" height="40"/><line class="sh" x1="1066.5" y1="922" x2="1066.5" y2="962.5"/>
<rect class="fr" x="1007" y="967" width="59" height="30"/><line class="sh" x1="1066.5" y1="967" x2="1066.5" y2="997.5"/>
<rect class="fr" x="1007" y="1002" width="59" height="23"/><line class="sh" x1="1066.5" y1="1002" x2="1066.5" y2="1025.5"/>
<path class="bl" d="M992 178H1006 M992 282H1006 M992 330H1006 M992 365H1006 M992 410H1006 M992 506H1006 M992 598H1006 M992 635H1006 M992 661H1006 M992 711H1006 M992 768H1006 M992 820H1006 M992 858H1006 M992 895H1006 M992 942H1006 M992 985H1006 M992 1013H1006"/>
<path class="br" d="M986 169H990V187H986 M986 273H990V291H986 M986 321H990V339H986 M986 356H990V374H986 M986 401H990V419H986 M986 497H990V515H986 M986 589H990V607H986 M986 626H990V644H986 M986 652H990V670H986 M986 702H990V720H986 M986 759H990V777H986 M986 811H990V829H986 M986 849H990V867H986 M986 886H990V904H986 M986 933H990V951H986 M986 976H990V994H986 M986 1004H990V1022H986"/>
<text class="hr" x="988" y="185">9</text>
<text class="hr" x="988" y="289">10</text>
<text class="hr" x="988" y="337">11</text>
<text class="hr" x="988" y="372">12</text>
<text class="hr" x="988" y="417">13</text>
<text class="hr" x="988" y="513">14</text>
<text class="hr" x="988" y="605">15</text>
<text class="hr" x="988" y="642">16</text>
<text class="hr" x="988" y="668">17</text>
<text class="hr" x="988" y="718">18</text>
<text class="hr" x="988" y="775">19</text>
<text class="hr" x="988" y="827">20</text>
<text class="hr" x="988" y="865">21</text>
<text class="hr" x="988" y="902">22</text>
<text class="hr" x="988" y="949">23</text>
<text class="hr" x="988" y="992">24</text>
<text class="hr" x="988" y="1020">25</text>
</g>
</svg>
